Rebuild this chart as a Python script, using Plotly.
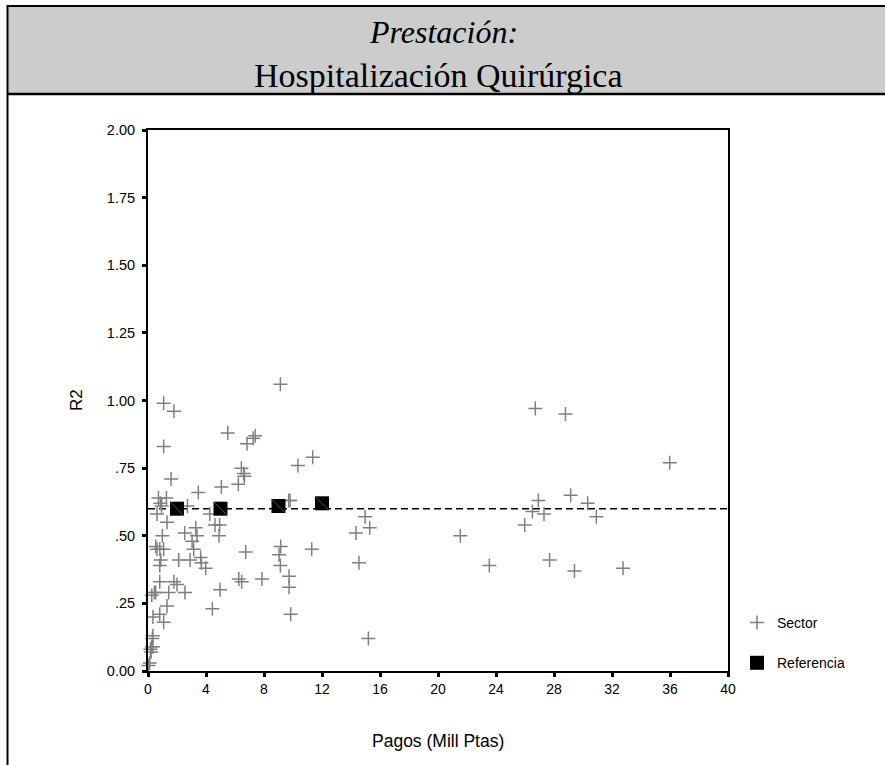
import plotly.graph_objects as go

# ---------------- data ----------------
sector_x = [9.13, 1.08, 1.79, 1.08, 5.50, 7.40, 7.25, 6.83, 11.36, 10.34, 6.44, 6.60, 6.65, 6.23,
            1.59, 5.06, 3.47, 0.72, 1.27, 0.85, 0.94, 0.62, 2.72, 4.26, 9.70, 9.80, 1.31, 4.62,
            4.94, 4.90, 3.29, 3.38, 2.53, 3.04, 0.99, 0.53, 0.62, 0.81, 1.08, 3.15, 0.88, 0.81,
            2.12, 2.90, 3.63, 3.68, 3.98, 6.74, 9.15, 9.04, 11.29, 9.13, 9.73, 9.73, 9.84, 6.26,
            6.46, 7.86, 4.97, 4.44, 2.55, 1.79, 2.00, 0.81, 1.43, 0.44, 0.26, 0.53, 1.31, 0.81,
            0.34, 1.08, 0.34, 0.30, 0.26, 0.34, 0.17, 0.21, 0.12, 0.03, 14.97, 15.29, 14.34,
            14.55, 15.20, 21.54, 23.54, 25.98, 26.71, 28.79, 35.98, 26.92, 26.51, 27.31, 29.15,
            30.32, 30.92, 27.70, 29.41, 32.76]
sector_y = [1.06, 0.99, 0.96, 0.83, 0.88, 0.87, 0.86, 0.84, 0.79, 0.76, 0.75, 0.73, 0.72, 0.69,
            0.71, 0.68, 0.66, 0.64, 0.64, 0.62, 0.61, 0.58, 0.61, 0.58, 0.63, 0.63, 0.55, 0.54,
            0.54, 0.50, 0.53, 0.50, 0.51, 0.48, 0.50, 0.46, 0.45, 0.45, 0.45, 0.45, 0.41, 0.39,
            0.41, 0.41, 0.42, 0.40, 0.38, 0.44, 0.46, 0.43, 0.45, 0.39, 0.35, 0.31, 0.21, 0.34,
            0.33, 0.34, 0.30, 0.23, 0.29, 0.33, 0.32, 0.33, 0.29, 0.29, 0.28, 0.29, 0.24, 0.21,
            0.20, 0.18, 0.13, 0.12, 0.09, 0.09, 0.08, 0.07, 0.03, 0.02, 0.57, 0.53, 0.51,
            0.40, 0.12, 0.50, 0.39, 0.54, 0.97, 0.95, 0.77, 0.63, 0.59, 0.58, 0.65,
            0.62, 0.57, 0.41, 0.37, 0.38]

ref_x = [2, 5, 9, 12]
ref_y = [0.60, 0.60, 0.61, 0.62]

ref_line = 0.60

x_ticks = [0, 4, 8, 12, 16, 20, 24, 28, 32, 36, 40]
y_ticks = [0, 0.25, 0.5, 0.75, 1.0, 1.25, 1.5, 1.75, 2.0]
y_ticktext = ["0.00", ".25", ".50", ".75", "1.00", "1.25", "1.50", "1.75", "2.00"]

title_line1 = "Prestación:"
title_line2 = "Hospitalización Quirúrgica"
x_title = "Pagos (Mill Ptas)"
y_title = "R2"

# ---------------- layout geometry (pixels) ----------------
W, H = 885, 765
L, R, T, B = 148, 728, 130, 671
PW, PH = R - L, B - T


def px(x):
    return (x - L) / PW


def py(y):
    return (B - y) / PH


SANS = "Liberation Sans, Arial, sans-serif"
SERIF = "Liberation Serif, Times New Roman, serif"

fig = go.Figure()

fig.add_trace(go.Scatter(
    x=sector_x, y=sector_y, mode="markers", name="Sector", legendgroup="a",
    marker=dict(symbol="cross-thin", size=10, color="#808080",
                line=dict(color="#808080", width=1.5)),
    cliponaxis=False,
))
fig.add_trace(go.Scatter(
    x=ref_x, y=ref_y, mode="markers", name="Referencia", legendgroup="b",
    marker=dict(symbol="square", size=14, color="black",
                line=dict(color="black", width=0)),
    cliponaxis=False,
))
fig.add_trace(go.Scatter(
    x=ref_x, y=ref_y, mode="markers", showlegend=False, hoverinfo="skip",
    marker=dict(symbol="line-nw", size=13, color="#555555",
                line=dict(color="#555555", width=1)),
    cliponaxis=False,
))

shapes = [
    dict(type="line", xref="x", yref="y", x0=0, x1=40, y0=ref_line, y1=ref_line,
         line=dict(color="black", width=1.5, dash="7px,4px"), layer="below"),
    dict(type="rect", xref="paper", yref="paper", x0=px(7), x1=px(890), y0=py(94), y1=py(6),
         fillcolor="#cccccc", line=dict(width=0), layer="below"),
    dict(type="line", xref="paper", yref="paper", x0=px(7), x1=px(890), y0=py(6), y1=py(6),
         line=dict(color="black", width=2)),
    dict(type="line", xref="paper", yref="paper", x0=px(7), x1=px(890), y0=py(94), y1=py(94),
         line=dict(color="black", width=2.5)),
    dict(type="line", xref="paper", yref="paper", x0=px(7.5), x1=px(7.5), y0=py(5), y1=py(770),
         line=dict(color="black", width=2)),
]

annotations = [
    dict(text="<i>" + title_line1 + "</i>", xref="paper", yref="paper", x=px(443), y=py(32),
         showarrow=False, font=dict(family=SERIF, size=32, color="black"),
         xanchor="center", yanchor="middle"),
    dict(text=title_line2, xref="paper", yref="paper", x=px(438), y=py(75),
         showarrow=False, font=dict(family=SERIF, size=34, color="black"),
         xanchor="center", yanchor="middle"),
    dict(text=x_title, xref="paper", yref="paper", x=px(438), y=py(741),
         showarrow=False, font=dict(family=SANS, size=17.5, color="black"),
         xanchor="center", yanchor="middle"),
    dict(text=y_title, xref="paper", yref="paper", x=px(76), y=py(400), textangle=-90,
         showarrow=False, font=dict(family=SANS, size=17, color="black"),
         xanchor="center", yanchor="middle"),
]

fig.update_layout(
    width=W, height=H,
    margin=dict(l=L, r=W - R, t=T, b=H - B, autoexpand=False),
    paper_bgcolor="white", plot_bgcolor="white",
    font=dict(family=SANS, size=14, color="black"),
    shapes=shapes, annotations=annotations,
    showlegend=True,
    legend=dict(x=px(737), y=py(607), xanchor="left", yanchor="top",
                font=dict(family=SANS, size=14, color="black"),
                tracegroupgap=19, bgcolor="rgba(0,0,0,0)"),
    xaxis=dict(range=[0, 40], tickvals=x_ticks, ticks="outside", ticklen=4, tickwidth=3,
               tickcolor="black", showline=True, linecolor="black", linewidth=2, mirror=True,
               showgrid=False, zeroline=False, tickfont=dict(size=14), fixedrange=True),
    yaxis=dict(range=[0, 2], tickvals=y_ticks, ticktext=y_ticktext, ticks="outside",
               ticklen=4, tickwidth=3, tickcolor="black", showline=True, linecolor="black",
               linewidth=2, mirror=True, showgrid=False, zeroline=False,
               ticklabelstandoff=4, tickfont=dict(size=14.5), fixedrange=True),
)

fig.write_html("out.html", config={"displayModeBar": False},
               post_script="document.body.style.margin='0px';document.body.style.overflow='hidden';")
